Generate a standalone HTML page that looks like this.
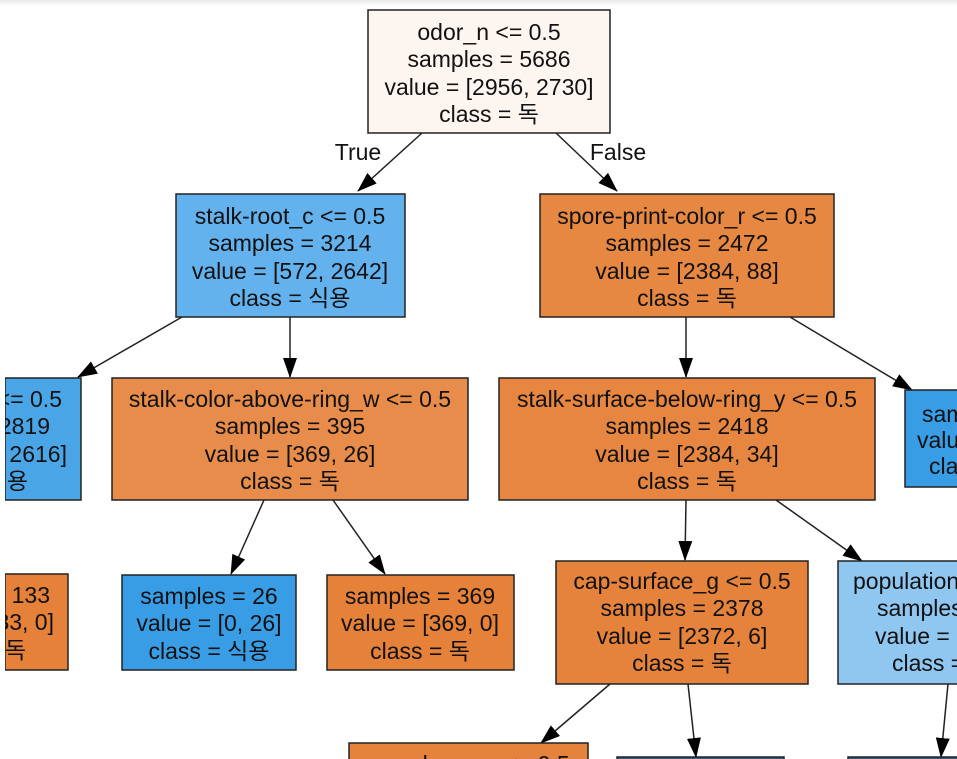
<!DOCTYPE html>
<html><head><meta charset="utf-8"><style>
html,body{margin:0;padding:0;background:#fff;}
svg{display:block;}
text{font-family:"Liberation Sans","Noto Sans CJK KR",sans-serif;font-size:23px;fill:#111;text-anchor:middle;}
.e{text-anchor:end;}
.s{text-anchor:start;}
</style></head><body>
<svg width="957" height="759" viewBox="0 0 957 759" xmlns="http://www.w3.org/2000/svg">
<defs>
<linearGradient id="tg" x1="0" y1="0" x2="0" y2="1"><stop offset="0" stop-color="#e8e8e8"/><stop offset="1" stop-color="#fff"/></linearGradient>
<marker id="a" markerWidth="20" markerHeight="14" refX="19" refY="7" orient="auto" markerUnits="userSpaceOnUse" viewBox="0 0 20 14"><path d="M0,0 L20,7 L0,14 z" fill="#000"/></marker>
<clipPath id="cl"><rect x="5" y="0" width="952" height="759"/></clipPath>
</defs>
<rect x="0" y="0" width="957" height="6" fill="url(#tg)"/>
<g stroke="#222" stroke-width="1.5" fill="none">
<line x1="422" y1="133" x2="358" y2="191" marker-end="url(#a)"/>
<line x1="556" y1="133" x2="617" y2="191" marker-end="url(#a)"/>
<line x1="182" y1="317" x2="78" y2="377" marker-end="url(#a)"/>
<line x1="290" y1="317" x2="290" y2="377" marker-end="url(#a)"/>
<line x1="686" y1="317" x2="686" y2="377" marker-end="url(#a)"/>
<line x1="790" y1="317" x2="912" y2="390" marker-end="url(#a)"/>
<line x1="264" y1="500" x2="231" y2="574" marker-end="url(#a)"/>
<line x1="333" y1="500" x2="385" y2="574" marker-end="url(#a)"/>
<line x1="686" y1="500" x2="685" y2="560" marker-end="url(#a)"/>
<line x1="776" y1="500" x2="862" y2="561" marker-end="url(#a)"/>
<line x1="610" y1="684" x2="541" y2="743" marker-end="url(#a)"/>
<line x1="688" y1="684" x2="696" y2="757" marker-end="url(#a)"/>
<line x1="948" y1="684" x2="941" y2="757" marker-end="url(#a)"/>
</g>
<text x="358" y="160">True</text>
<text x="618" y="160">False</text>
<g stroke="#222" stroke-width="1.5" clip-path="url(#cl)">
<rect x="368" y="10" width="242" height="123" fill="#fdf5f0"/>
<rect x="176" y="194" width="229" height="123" fill="#63b2ed"/>
<rect x="540" y="194" width="294" height="123" fill="#e68742"/>
<rect x="5" y="378" width="76" height="122" fill="#4aa5e7"/>
<rect x="112" y="378" width="356" height="122" fill="#e78c4a"/>
<rect x="499" y="378" width="376" height="122" fill="#e68641"/>
<rect x="905" y="390" width="60" height="97" fill="#399de5"/>
<rect x="5" y="574" width="63" height="96" fill="#e58139"/>
<rect x="122" y="575" width="174" height="95" fill="#399de5"/>
<rect x="327" y="575" width="187" height="95" fill="#e58139"/>
<rect x="556" y="561" width="252" height="123" fill="#e5833c"/>
<rect x="838" y="561" width="130" height="123" fill="#8fc7f0"/>
<rect x="349" y="743" width="239" height="30" fill="#e5833c"/>
<rect x="617" y="757" width="167" height="10" fill="#3c5a78"/>
<rect x="848" y="757" width="120" height="10" fill="#3c5a78"/>
</g>
<text x="489" y="40">odor_n &lt;= 0.5</text><text x="489" y="67">samples = 5686</text><text x="489" y="95">value = [2956, 2730]</text><text x="489" y="122">class = 독</text>
<text x="290" y="224">stalk-root_c &lt;= 0.5</text><text x="290" y="251">samples = 3214</text><text x="290" y="279">value = [572, 2642]</text><text x="290" y="306">class = 식용</text>
<text x="687" y="224">spore-print-color_r &lt;= 0.5</text><text x="687" y="251">samples = 2472</text><text x="687" y="279">value = [2384, 88]</text><text x="687" y="306">class = 독</text>
<text x="290" y="407">stalk-color-above-ring_w &lt;= 0.5</text><text x="290" y="434">samples = 395</text><text x="290" y="462">value = [369, 26]</text><text x="290" y="489">class = 독</text>
<text x="687" y="407">stalk-surface-below-ring_y &lt;= 0.5</text><text x="687" y="434">samples = 2418</text><text x="687" y="462">value = [2384, 34]</text><text x="687" y="489">class = 독</text>
<g clip-path="url(#cl)">
<text class="e" x="62" y="407">m_z &lt;= 0.5</text><text class="e" x="50" y="434">s = 2819</text><text class="e" x="67" y="462">[203, 2616]</text><text class="e" x="28" y="489">= 식용</text>
<text class="e" x="50" y="603">s = 133</text><text class="e" x="54" y="630">[133, 0]</text><text class="e" x="26" y="658">= 독</text>
</g>
<text class="s" x="922" y="422">samples</text><text class="s" x="917" y="448">value</text><text class="s" x="929" y="474">class</text>
<text x="209" y="604">samples = 26</text><text x="209" y="631">value = [0, 26]</text><text x="209" y="659">class = 식용</text>
<text x="420" y="604">samples = 369</text><text x="420" y="631">value = [369, 0]</text><text x="420" y="659">class = 독</text>
<text x="682" y="589">cap-surface_g &lt;= 0.5</text><text x="682" y="616">samples = 2378</text><text x="682" y="644">value = [2372, 6]</text><text x="682" y="671">class = 독</text>
<text class="s" x="853" y="589">population_v &lt;= 0.5</text><text class="s" x="877" y="616">samples = 40</text><text class="s" x="875" y="644">value = [12, 28]</text><text class="s" x="892" y="671">class = 식용</text>
<text x="468" y="772">cap-shape_x &lt;= 0.5</text>
</svg>
</body></html>
